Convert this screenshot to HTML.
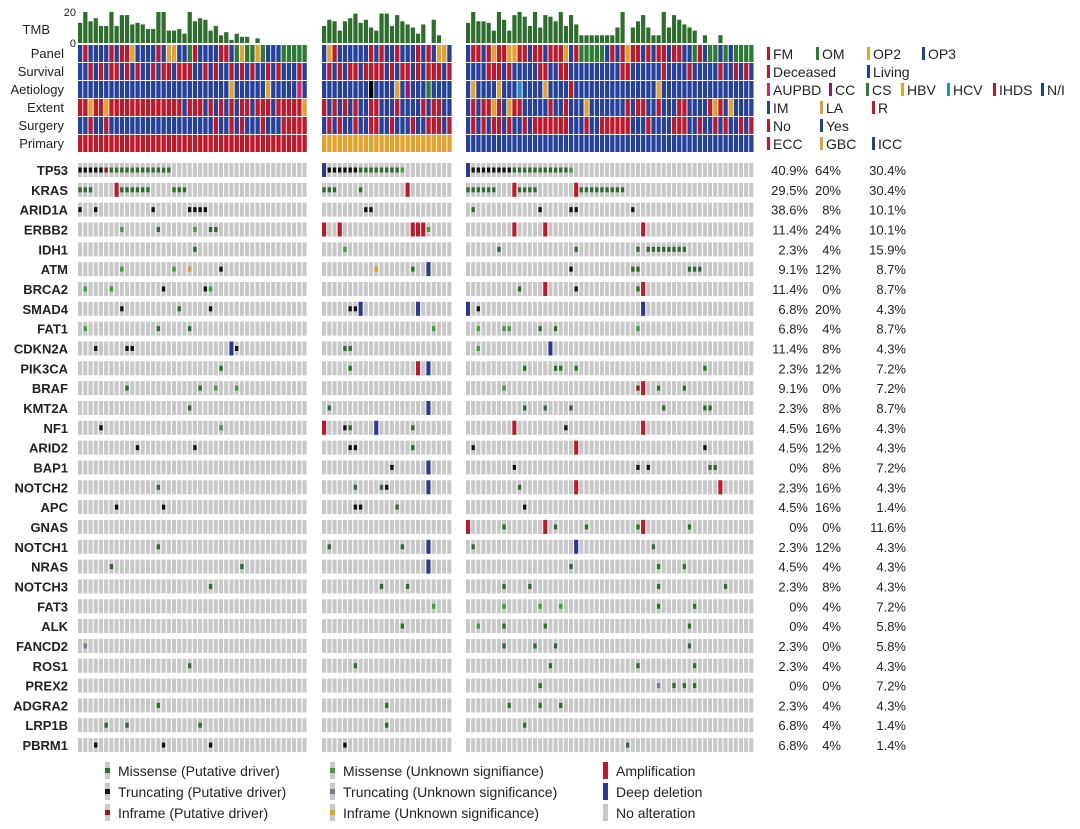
<!DOCTYPE html>
<html><head><meta charset="utf-8"><style>
body{margin:0;background:#fff;}
svg{display:block;font-family:"Liberation Sans",Arial,sans-serif;}
</style></head><body>
<svg id="chart" width="1080" height="829" viewBox="0 0 1080 829" xmlns="http://www.w3.org/2000/svg"></svg>
<script>
const genes=["TP53","KRAS","ARID1A","ERBB2","IDH1","ATM","BRCA2","SMAD4","FAT1","CDKN2A","PIK3CA","BRAF","KMT2A","NF1","ARID2","BAP1","NOTCH2","APC","GNAS","NOTCH1","NRAS","NOTCH3","FAT3","ALK","FANCD2","ROS1","PREX2","ADGRA2","LRP1B","PBRM1"];
const pct1=["40.9%","29.5%","38.6%","11.4%","2.3%","9.1%","11.4%","6.8%","6.8%","11.4%","2.3%","9.1%","2.3%","4.5%","4.5%","0%","2.3%","4.5%","0%","2.3%","4.5%","2.3%","0%","0%","2.3%","2.3%","0%","2.3%","6.8%","6.8%"];
const pct2=["64%","20%","8%","24%","4%","12%","0%","20%","4%","8%","12%","0%","8%","16%","12%","8%","16%","16%","0%","12%","4%","8%","4%","4%","0%","4%","0%","4%","4%","4%"];
const pct3=["30.4%","30.4%","10.1%","10.1%","15.9%","8.7%","8.7%","4.3%","8.7%","4.3%","7.2%","7.2%","8.7%","4.3%","4.3%","7.2%","4.3%","1.4%","11.6%","4.3%","4.3%","4.3%","7.2%","5.8%","5.8%","4.3%","7.2%","4.3%","1.4%","1.4%"];
const tmb1=[13,20,14,16,11,11,20,11,18,18,12,13,12,9,9,20,20,8,8,9,6,20,14,16,15,8,11,5,7,2,6,4,4,0,3,0,0,0,0,0,0,0,0,0];
const tmb2=[11,15,14,8,14,16,19,13,15,10,8,19,19,11,18,14,12,10,6,12,0,15,5,0,0];
const tmb3=[13,20,14,14,13,8,20,15,8,18,20,17,11,20,10,18,17,14,20,11,18,12,5,5,5,5,5,5,5,10,20,0,10,14,18,10,5,5,20,10,18,15,12,10,8,0,5,0,0,5,0,0,0,0,0,0];
const annoLabels=["Panel","Survival","Aetiology","Extent","Surgery","Primary"];
const anno1=["brbbbbrbrrobbbbrboobbgrbbbbrrbgoggogbbbggggggg","bbrbrbrrbrbrbbrbrrbrrrbbrbrbbrbrbrbbrbrbbbrbr","bbbbbbbbbbbbbbbbbbbbbbbbbbbbbobbbbbbobbbbbkbb","rrorrorrrrrrrrrrrrrrbrrrbrbrbrbrrbrrrbrrrrrob","bbrbbrbbbbbbbbbbbbbbbbbbbbrbbrbrbbbrbbbrrrrrr","rrrrrrrrrrrrrrrrrrrrrrrrrrrrrrrrrrrrrrrrrrrrr"];
const anno2=["borbbbbbbrbrbbrbbbrbrboob","brbrbrrbrrrrbrbrrbrbrrrbr","bbbbbbbbbhbbbbobpbbbgbbbb","rbrbrbrbbrrbbbrbbbbrbrrbb","brbrbbrbbrrbbrbbbrbbrrrbr","ooooooooooooooooooooooooo"];
const anno3=["brrbrorroorrbrrbrrrobrgggggbrbrorrbrbrrbrrbbgrbggbgbgggg","bbbbrrrbrbbbbbrrbbrrbbbbbbbbbbrrbbbbbbrbbbbrbbbbbrbbrbrb","bobbbbobbbcbbbbobbbbrbbbbbbbbbbbbbbbbobbbbbbbbbbbbbbbbbbb","brbrrorborrbbbbbrbbrbbbobbbbbbbrbrrbbrbbbrrbbbbrorbobbbbb","brbrbrrbrbbrbrrrrrrrbbbrbbrrrrrrbbbrbbbbrrrbbrbbrbrbbrbrr","bbbbbbbbbbbbbbbbbbbbbbbbbbbbbbbbbbbbbbbbbbbbbbbbbbbbbbbbb"];
// alterations: [gene index, group, column, type]
const alts=[
[0,0,0,"T"],[0,0,1,"T"],[0,0,2,"T"],[0,0,3,"T"],[0,0,4,"T"],[0,0,5,"I"],[0,0,6,"M"],[0,0,7,"M"],[0,0,8,"M"],[0,0,9,"M"],[0,0,10,"M"],[0,0,11,"M"],[0,0,12,"M"],[0,0,13,"M"],[0,0,14,"M"],[0,0,15,"M"],[0,0,16,"M"],[0,0,17,"M"],
[0,1,0,"D"],[0,1,1,"T"],[0,1,2,"T"],[0,1,3,"T"],[0,1,4,"T"],[0,1,5,"T"],[0,1,6,"T"],[0,1,7,"M"],[0,1,8,"M"],[0,1,9,"M"],[0,1,10,"M"],[0,1,11,"M"],[0,1,12,"M"],[0,1,13,"M"],[0,1,14,"M"],[0,1,15,"m"],
[0,2,0,"D"],[0,2,1,"T"],[0,2,2,"T"],[0,2,3,"T"],[0,2,4,"T"],[0,2,5,"T"],[0,2,6,"T"],[0,2,7,"T"],[0,2,8,"T"],[0,2,9,"M"],[0,2,10,"M"],[0,2,11,"M"],[0,2,12,"M"],[0,2,13,"M"],[0,2,14,"M"],[0,2,15,"M"],[0,2,16,"M"],[0,2,17,"M"],[0,2,18,"M"],[0,2,19,"M"],[0,2,20,"m"],
[1,0,0,"M"],[1,0,1,"M"],[1,0,2,"M"],[1,0,7,"A"],[1,0,8,"M"],[1,0,9,"M"],[1,0,10,"M"],[1,0,11,"M"],[1,0,12,"M"],[1,0,13,"M"],[1,0,18,"M"],[1,0,19,"M"],[1,0,20,"M"],
[1,1,0,"M"],[1,1,1,"M"],[1,1,2,"M"],[1,1,7,"M"],[1,1,16,"A"],
[1,2,0,"M"],[1,2,1,"M"],[1,2,2,"M"],[1,2,3,"M"],[1,2,4,"M"],[1,2,5,"M"],[1,2,9,"A"],[1,2,10,"M"],[1,2,11,"M"],[1,2,12,"M"],[1,2,13,"M"],[1,2,21,"A"],[1,2,22,"M"],[1,2,23,"M"],[1,2,24,"M"],[1,2,25,"M"],[1,2,26,"M"],[1,2,27,"M"],[1,2,28,"M"],[1,2,29,"M"],[1,2,30,"M"],
[2,0,0,"T"],[2,0,3,"T"],[2,0,14,"T"],[2,0,21,"T"],[2,0,22,"T"],[2,0,23,"T"],[2,0,24,"T"],[2,1,8,"T"],[2,1,9,"T"],[2,2,1,"M"],[2,2,14,"T"],[2,2,20,"T"],[2,2,21,"T"],[2,2,32,"T"],
[3,0,8,"m"],[3,0,15,"M"],[3,0,22,"m"],[3,0,25,"M"],[3,0,26,"M"],[3,1,0,"A"],[3,1,3,"A"],[3,1,17,"A"],[3,1,18,"A"],[3,1,19,"A"],[3,1,20,"m"],[3,2,9,"A"],[3,2,15,"A"],[3,2,34,"A"],
[4,0,22,"M"],[4,1,4,"m"],[4,2,6,"M"],[4,2,21,"M"],[4,2,33,"M"],[4,2,35,"M"],[4,2,36,"M"],[4,2,37,"M"],[4,2,38,"M"],[4,2,39,"M"],[4,2,40,"M"],[4,2,41,"M"],[4,2,42,"M"],
[5,0,8,"m"],[5,0,18,"m"],[5,0,21,"i"],[5,0,27,"T"],[5,1,10,"i"],[5,1,17,"M"],[5,1,20,"D"],[5,2,20,"T"],[5,2,32,"M"],[5,2,33,"M"],[5,2,43,"M"],[5,2,44,"M"],[5,2,45,"M"],
[6,0,1,"m"],[6,0,6,"m"],[6,0,16,"T"],[6,0,24,"T"],[6,0,25,"m"],[6,2,10,"M"],[6,2,15,"A"],[6,2,21,"T"],[6,2,33,"M"],[6,2,34,"A"],
[7,0,8,"T"],[7,0,19,"M"],[7,0,25,"T"],[7,1,5,"T"],[7,1,6,"T"],[7,1,7,"D"],[7,1,18,"D"],[7,2,0,"D"],[7,2,2,"T"],[7,2,34,"D"],
[8,0,1,"m"],[8,0,15,"M"],[8,0,21,"M"],[8,1,21,"m"],[8,2,2,"m"],[8,2,7,"m"],[8,2,8,"m"],[8,2,14,"M"],[8,2,17,"M"],[8,2,33,"m"],
[9,0,3,"T"],[9,0,9,"T"],[9,0,10,"T"],[9,0,29,"D"],[9,0,30,"T"],[9,1,4,"M"],[9,1,5,"M"],[9,2,2,"m"],[9,2,16,"D"],
[10,0,27,"M"],[10,1,5,"M"],[10,1,18,"A"],[10,1,20,"D"],[10,2,11,"M"],[10,2,17,"M"],[10,2,18,"M"],[10,2,21,"M"],[10,2,46,"M"],
[11,0,9,"M"],[11,0,23,"M"],[11,0,26,"m"],[11,0,30,"m"],[11,2,7,"m"],[11,2,33,"I"],[11,2,34,"A"],[11,2,37,"M"],[11,2,42,"M"],
[12,0,21,"M"],[12,1,1,"M"],[12,1,20,"D"],[12,2,11,"M"],[12,2,15,"M"],[12,2,20,"M"],[12,2,38,"M"],[12,2,46,"M"],[12,2,47,"M"],
[13,0,4,"T"],[13,0,27,"m"],[13,1,0,"A"],[13,1,4,"T"],[13,1,5,"M"],[13,1,10,"D"],[13,1,17,"M"],[13,2,9,"A"],[13,2,19,"T"],[13,2,34,"A"],
[14,0,11,"T"],[14,0,22,"T"],[14,1,5,"T"],[14,1,6,"T"],[14,1,17,"M"],[14,2,1,"T"],[14,2,21,"A"],[14,2,46,"T"],
[15,1,13,"T"],[15,1,20,"D"],[15,2,9,"T"],[15,2,33,"T"],[15,2,35,"T"],[15,2,47,"M"],[15,2,48,"M"],
[16,0,15,"M"],[16,1,6,"M"],[16,1,11,"M"],[16,1,12,"T"],[16,1,20,"D"],[16,2,10,"M"],[16,2,21,"A"],[16,2,49,"A"],
[17,0,7,"T"],[17,0,16,"T"],[17,1,6,"T"],[17,1,7,"T"],[17,1,14,"M"],[17,2,11,"T"],
[18,2,0,"A"],[18,2,7,"M"],[18,2,15,"A"],[18,2,17,"M"],[18,2,23,"M"],[18,2,33,"M"],[18,2,34,"A"],[18,2,43,"M"],
[19,0,15,"M"],[19,1,1,"M"],[19,1,15,"M"],[19,1,20,"D"],[19,2,1,"M"],[19,2,21,"D"],[19,2,36,"M"],
[20,0,6,"M"],[20,0,31,"M"],[20,1,20,"D"],[20,2,20,"M"],[20,2,37,"M"],[20,2,42,"M"],
[21,0,25,"M"],[21,1,11,"M"],[21,1,16,"M"],[21,2,7,"M"],[21,2,12,"M"],[21,2,37,"M"],[21,2,50,"M"],
[22,1,21,"m"],[22,2,7,"m"],[22,2,14,"m"],[22,2,18,"m"],[22,2,37,"M"],[22,2,44,"M"],
[23,1,15,"M"],[23,2,2,"m"],[23,2,7,"M"],[23,2,15,"M"],[23,2,43,"M"],
[24,0,1,"t"],[24,2,7,"M"],[24,2,13,"M"],[24,2,17,"M"],[24,2,43,"M"],
[25,0,21,"M"],[25,1,6,"M"],[25,2,16,"M"],[25,2,33,"M"],[25,2,44,"M"],
[26,2,14,"M"],[26,2,37,"t"],[26,2,40,"M"],[26,2,42,"M"],[26,2,44,"M"],
[27,0,15,"M"],[27,1,12,"M"],[27,2,8,"M"],[27,2,14,"M"],[27,2,18,"M"],
[28,0,5,"M"],[28,0,9,"M"],[28,0,23,"M"],[28,1,12,"M"],[28,2,11,"M"],
[29,0,3,"T"],[29,0,16,"T"],[29,0,25,"T"],[29,1,4,"T"],[29,2,31,"M"]
];
const svg=document.getElementById('chart');
const NS="http://www.w3.org/2000/svg";
function mk(tag,attrs,parent){const e=document.createElementNS(NS,tag);for(const k in attrs)e.setAttribute(k,attrs[k]);(parent||svg).appendChild(e);return e;}
const groups=[{x0:78,n:44,w:5.22,tmb:tmb1,anno:anno1},{x0:322,n:25,w:5.22,tmb:tmb2,anno:anno2},{x0:466,n:56,w:5.15,tmb:tmb3,anno:anno3}];
const cmap={r:"#c0182a",b:"#23409a",g:"#2d7a32",o:"#e3a22b",p:"#8a1b6e",k:"#d6246a",c:"#2a8cc4"};
const tcol={M:"#2e6b2e",m:"#3f9e3f",T:"#111",t:"#6d7d8c",I:"#8e1c1c",i:"#e0a020",A:"#c0182a",D:"#2e3791"};
const geneTop=i=>163+i*19.83;
const colX=(g,c)=>groups[g].x0+c*groups[g].w;
const tmbY=v=>43-v*31/20;
// TMB axis
let t=mk('text',{x:50,y:34,'font-size':13,fill:'#222','text-anchor':'end'});t.textContent="TMB";

t=mk('text',{x:76,y:16,'font-size':11,fill:'#222','text-anchor':'end'});t.textContent="20";

t=mk('text',{x:76,y:47,'font-size':11,fill:'#222','text-anchor':'end'});t.textContent="0";

groups.forEach((G,gi)=>{
  for(let c=0;c<G.n;c++){
    const v=G.tmb[c]||0;
    if(v>0){const r=mk('rect',{x:colX(gi,c),y:tmbY(v),width:G.w-1,height:43-tmbY(v),fill:'#2d6e2d'});
      }
    for(let a=0;a<6;a++){
      const s=G.anno[a];const ch=s[Math.min(c,s.length-1)];
      const r=mk('rect',{x:colX(gi,c),y:45+a*18,width:G.w-0.9,height:17,fill:cmap[ch]});
      
    }
    for(let i=0;i<genes.length;i++){
      const r=mk('rect',{x:colX(gi,c),y:geneTop(i),width:G.w-1.1,height:14,fill:'#c8c8c8'});
      
    }
  }
});
alts.forEach(([gIdx,gi,c,ty])=>{
  const G=groups[gi];const x=colX(gi,c);const y=geneTop(gIdx);
  let r;
  if(ty==="A"||ty==="D") r=mk('rect',{x:x,y:y,width:G.w-1.1,height:14,fill:tcol[ty]});
  else r=mk('rect',{x:x+0.4,y:y+4.5,width:G.w-1.9,height:5,fill:tcol[ty]});
  
  
});
annoLabels.forEach((l,a)=>{const e=mk('text',{x:64,y:45+a*18+13,'font-size':13,fill:'#222','text-anchor':'end'});e.textContent=l;
  });
genes.forEach((g,i)=>{const y=geneTop(i)+12;
  let e=mk('text',{x:68,y:y,'font-size':13,'font-weight':'bold',fill:'#222','text-anchor':'end'});e.textContent=g;
  
  e=mk('text',{x:808,y:y,'font-size':13,fill:'#222','text-anchor':'end'});e.textContent=pct1[i];
  
  e=mk('text',{x:841,y:y,'font-size':13,fill:'#222','text-anchor':'end'});e.textContent=pct2[i];
  
  e=mk('text',{x:906,y:y,'font-size':13,fill:'#222','text-anchor':'end'});e.textContent=pct3[i];
  
});
// annotation legends
const annoLeg=[[["FM","r",767],["OM","g",816],["OP2","o",867],["OP3","b",922]],
[["Deceased","r",767],["Living","b",867]],
[["AUPBD","k",767],["CC","p",829],["CS","g",866],["HBV","o",901],["HCV","c",947],["IHDS","r",993],["N/I","b",1041]],
[["IM","b",767],["LA","o",820],["R","r",872]],
[["No","r",767],["Yes","b",820]],
[["ECC","r",767],["GBC","o",820],["ICC","b",872]]];
annoLeg.forEach((row,a)=>row.forEach(([l,c,x])=>{
  const y=45+a*18;
  const r=mk('rect',{x:x,y:y+2,width:3,height:13,fill:cmap[c]});
  
  const e=mk('text',{x:x+6,y:y+14,'font-size':14,fill:'#222'});e.textContent=l;
  
}));
// bottom legend
const bl=[["Missense (Putative driver)","M",105,771],["Truncating (Putative driver)","T",105,792],["Inframe (Putative driver)","I",105,813],
["Missense (Unknown signifiance)","m",330,771],["Truncating (Unknown significance)","t",330,792],["Inframe (Unknown significance)","i",330,813],
["Amplification","A",603,771],["Deep deletion","D",603,792],["No alteration","N",603,813]];
bl.forEach(([l,ty,x,y])=>{
  let r=mk('rect',{x:x,y:y-9,width:5,height:17,fill:ty==="A"||ty==="D"?tcol[ty]:'#c8c8c8'});
  
  if(ty!=="A"&&ty!=="D"&&ty!=="N"){r=mk('rect',{x:x,y:y-3,width:5,height:5,fill:tcol[ty]});
    }
  const e=mk('text',{x:x+13,y:y+5,'font-size':14,fill:'#222'});e.textContent=l;
  
});
</script>
</body></html>
